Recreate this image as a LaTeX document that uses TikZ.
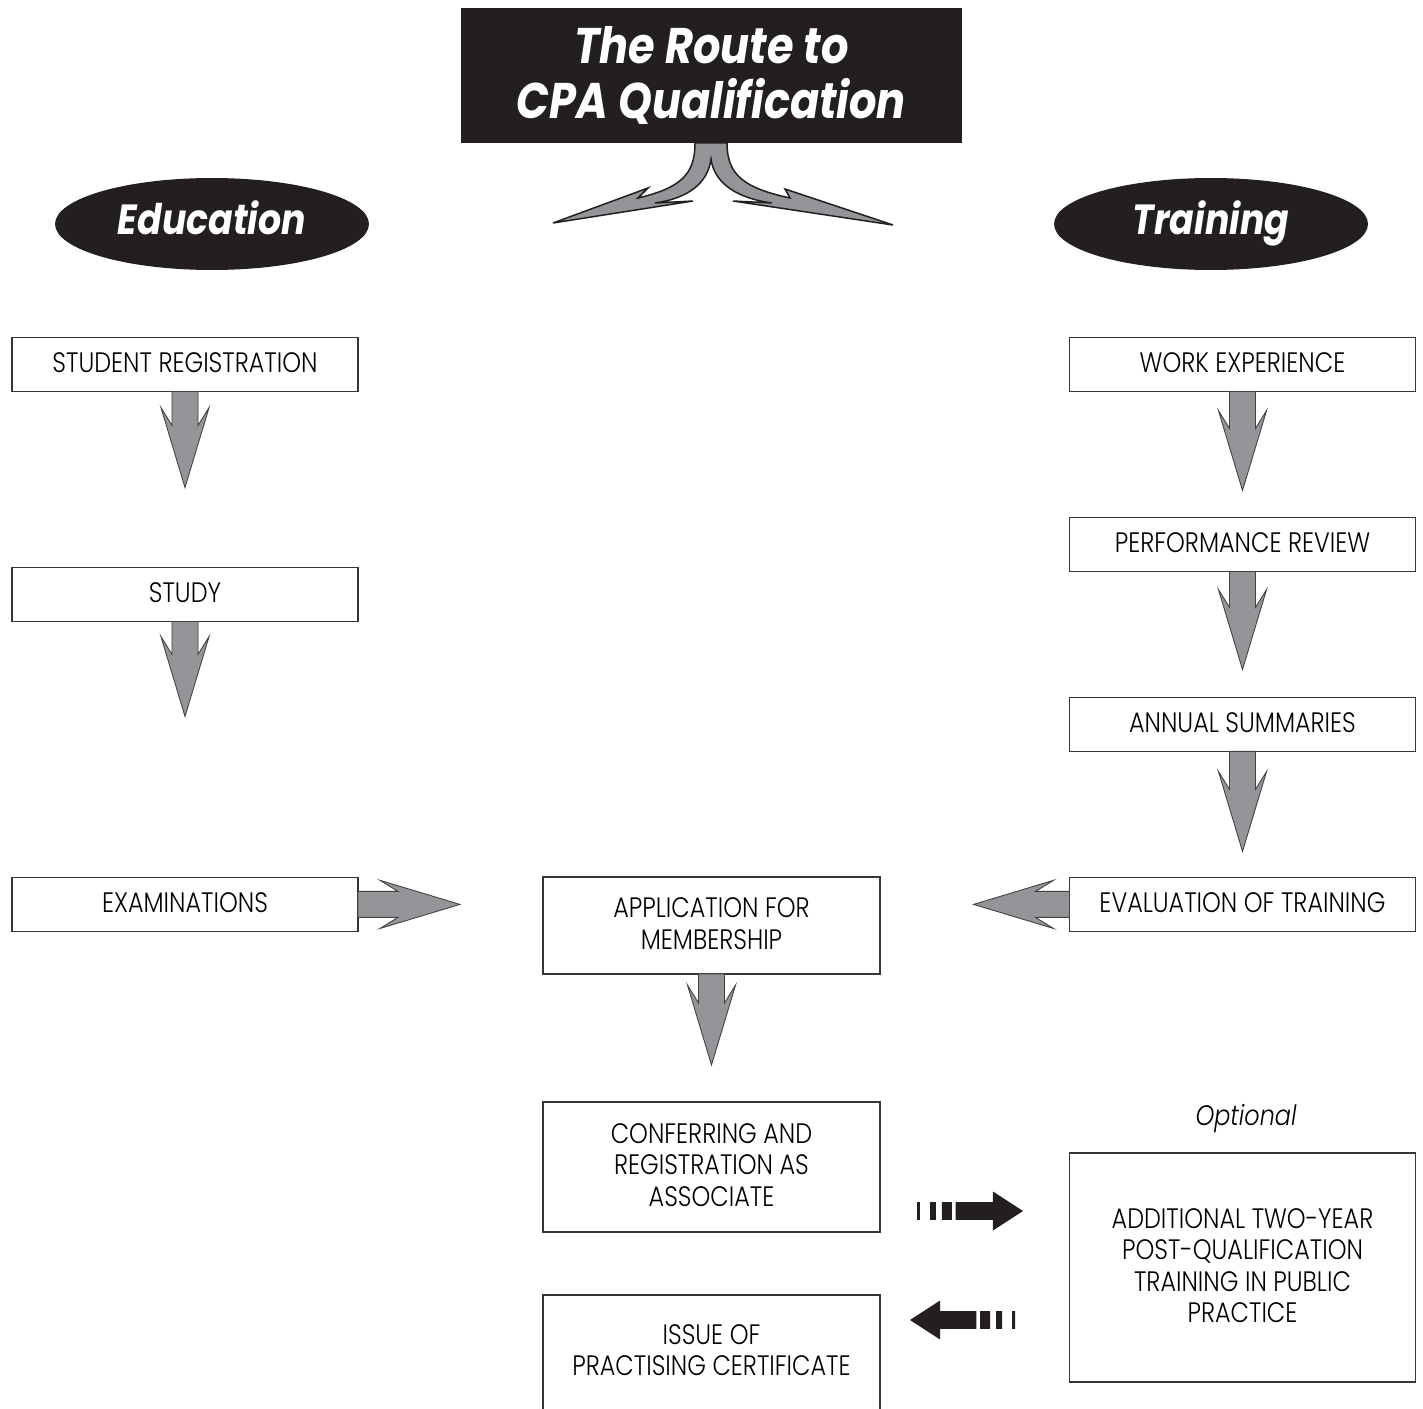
\documentclass[tikz,border=0pt]{standalone}
\usepackage{fontspec}
\setmainfont{Poppins}[UprightFont=* Light, ItalicFont=* Light Italic,
  BoldFont=* Bold, BoldItalicFont=* Bold Italic, FakeStretch=0.85]
\newfontfamily\headfont{Poppins}[FakeStretch=0.86]
\usetikzlibrary{shapes.geometric, positioning, calc}
\definecolor{cpadark}{HTML}{231F20}
\definecolor{cpagrey}{HTML}{939598}

% fat grey arrow from #1 to the tip #2
\newcommand{\greyarrow}[2]{%
  \draw[greyarr] let \p1=(#1), \p2=(#2), \n1={atan2(\y2-\y1,\x2-\x1)},
    \n2={veclen(\x2-\x1,\y2-\y1)} in [shift={(\p1)}, rotate=\n1]
    (0pt,7.4pt) -- (\n2-35.3pt,7.4pt) -- (\n2-45.5pt,13.7pt) -- (\n2,0pt)
    -- (\n2-45.5pt,-13.7pt) -- (\n2-35.3pt,-7.4pt) -- (0pt,-7.4pt) -- cycle;}
% black arrow with a broken tail
\newcommand{\blackarrow}[2]{%
  \fill[cpadark] let \p1=(#1), \p2=(#2), \n1={atan2(\y2-\y1,\x2-\x1)},
    \n2={veclen(\x2-\x1,\y2-\y1)} in [shift={(\p1)}, rotate=\n1]
    (0pt,-5.1pt) rectangle (1.7pt,5.1pt)
    (7.4pt,-5.1pt) rectangle (10.8pt,5.1pt)
    (14.2pt,-5.1pt) rectangle (19.9pt,5.1pt)
    (22pt,-5.1pt) -- (\n2-17.1pt,-5.1pt) -- (\n2-17.1pt,-11.1pt) -- (\n2,0pt)
    -- (\n2-17.1pt,11.1pt) -- (\n2-17.1pt,5.1pt) -- (22pt,5.1pt) -- cycle;}

\begin{document}
\begin{tikzpicture}[
    x=0.02cm, y=-0.02cm,
    box/.style={draw=cpadark!90, line width=0.7pt, fill=white, inner sep=0pt,
                outer sep=0pt, align=center, font=\fontsize{16}{17.8}\selectfont,
                text depth=2.3pt,
                minimum width=6.92cm, minimum height=1.08cm},
    midbox/.style={box, minimum width=6.74cm},
    oval/.style={ellipse, fill=cpadark, text=white, inner sep=0pt,
                 minimum width=6.28cm, minimum height=1.84cm,
                 text height=17pt, text depth=4.6pt,
                 font=\headfont\fontsize{24}{30}\selectfont\bfseries\itshape},
    greyarr/.style={fill=cpagrey, draw=cpadark!85, line width=0.5pt},
  ]
    \useasboundingbox (0,0) rectangle (1423,1409);

    % heading
    \node[fill=cpadark, text=white, inner sep=0pt, align=center,
          minimum width=10.02cm, minimum height=2.7cm,
          font=\headfont\fontsize{28.5}{31.3}\selectfont\bfseries\itshape]
      (title) at (711.5,75.5) {The Route to\\CPA Qualification};
    \draw[greyarr, line width=0.85pt, draw=cpadark]
      (695,143) .. controls (695,175) and (680,188) .. (638,198)
      -- (648,188) -- (553,223) -- (693,201) -- (655,203)
      .. controls (690,198) and (708,182) .. (711,159)
      .. controls (714,182) and (735,198) .. (772,203)
      -- (733,201) -- (893,225) -- (785,189) -- (790,198)
      .. controls (744,188) and (727,175) .. (727,143) -- cycle;

    \node[oval] (edu)   at (212,224)  {Education};
    \node[oval] (train) at (1211,224) {Training};

    % education column
    \node[box] (reg) at (185,364.5) {STUDENT REGISTRATION};
    \node[box, below=3.52cm of reg]   (study) {STUDY};
    \node[box, below=5.12cm of study] (exam)  {EXAMINATIONS};

    % training column
    \node[box] (work) at (1242.5,364.5) {WORK EXPERIENCE};
    \node[box, below=2.52cm of work]   (perf)   {PERFORMANCE REVIEW};
    \node[box, below=2.52cm of perf]   (annual) {ANNUAL SUMMARIES};
    \node[box, below=2.52cm of annual] (eval)   {EVALUATION OF TRAINING};

    % membership
    \node[midbox, minimum height=1.94cm] (app) at (711.5,925.5)
      {APPLICATION FOR\\MEMBERSHIP};
    \node[midbox, minimum height=2.6cm, below=2.56cm of app] (conf)
      {CONFERRING AND\\REGISTRATION AS\\ASSOCIATE};
    \node[midbox, minimum height=2.3cm, below=1.26cm of conf] (issue)
      {ISSUE OF\\PRACTISING CERTIFICATE};
    \node[box, minimum height=4.58cm] (extra) at (1242.5,1267.5)
      {ADDITIONAL TWO-YEAR\\POST-QUALIFICATION\\TRAINING IN PUBLIC\\PRACTICE};
    \node[font=\fontsize{16}{17.8}\selectfont\itshape] (opt) at (1246,1119) {Optional};

    % free arrow ends
    \coordinate[below=1.92cm of reg]   (regend);
    \coordinate[below=1.9cm of study]  (studyend);
    \coordinate[right=2.04cm of exam]  (examend);
    \coordinate[below=1.98cm of work]  (workend);
    \coordinate[below=1.96cm of perf]  (perfend);
    \coordinate[below=2cm of annual]   (annualend);
    \coordinate[left=1.92cm of eval]   (evalend);
    \coordinate[below=1.82cm of app]   (append);
    \coordinate (optout) at (917,1211);
    \coordinate (optin)  at (1023,1211);
    \coordinate (backout) at (1015,1320);
    \coordinate (backin)  at (910,1320);

    \greyarrow{reg.south}{regend}
    \greyarrow{study.south}{studyend}
    \greyarrow{exam.east}{examend}
    \greyarrow{work.south}{workend}
    \greyarrow{perf.south}{perfend}
    \greyarrow{annual.south}{annualend}
    \greyarrow{eval.west}{evalend}
    \greyarrow{app.south}{append}
    \blackarrow{optout}{optin}
    \blackarrow{backout}{backin}
\end{tikzpicture}
\end{document}
